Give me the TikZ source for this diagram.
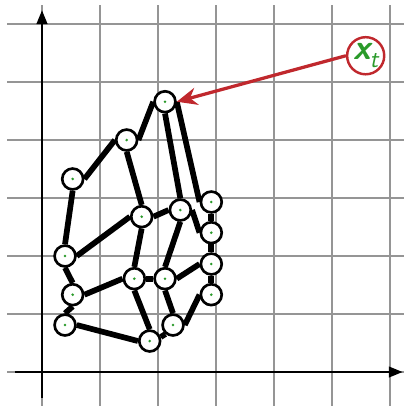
\documentclass[tikz,border=0pt]{standalone}
\usepackage{amsmath,bm}
\usepackage{xcolor}
\definecolor{rojoPt}{HTML}{C0282D}
\definecolor{verdePt}{HTML}{2A9A2A}
\definecolor{gridGris}{HTML}{959595}
\usepackage{tikz}
\usetikzlibrary{arrows.meta,calc}

\begin{document}
\begin{tikzpicture}[
  pt/.style={circle,draw,line width=1.3pt,fill=white,minimum size=0.36cm,inner sep=0pt,
    path picture={\fill[verdePt] (path picture bounding box.center) circle (0.7pt);}},
  lnk/.style={line width=2.8pt},
  eje/.style={-{Triangle[length=2.4mm,width=1.8mm]},line width=1.3pt},
  rejilla/.style={gridGris,line width=0.6pt}]
  \useasboundingbox (-0.724,-0.586) rectangle (6.241,6.414);
  % rejilla y ejes
  \foreach \k in {0,...,6} {
    \draw[rejilla] (-0.603,\k)--(6.241,\k);
    \draw[rejilla] (\k,-0.586)--(\k,6.328);
  }
  \draw[eje] (0,-0.448)--(0,6.24);
  \draw[eje] (-0.466,0)--(6.22,0);
  % nodos
  \node[pt] (p1) at (2.121,4.660) {};
  \node[pt] (p2) at (1.460,4.000) {};
  \node[pt] (p3) at (0.529,3.328) {};
  \node[pt] (p4) at (1.719,2.678) {};
  \node[pt] (p5) at (2.385,2.793) {};
  \node[pt] (p6) at (2.919,2.931) {};
  \node[pt] (p7) at (2.919,2.402) {};
  \node[pt] (p8) at (2.919,1.862) {};
  \node[pt] (p9) at (2.919,1.333) {};
  \node[pt] (p10) at (0.397,2.000) {};
  \node[pt] (p11) at (0.529,1.333) {};
  \node[pt] (p12) at (0.397,0.810) {};
  \node[pt] (p13) at (1.592,1.609) {};
  \node[pt] (p14) at (2.121,1.609) {};
  \node[pt] (p15) at (2.259,0.810) {};
  \node[pt] (p16) at (1.857,0.534) {};
  % aristas
  \draw[lnk] (p3.east)--(p2.west);
  \draw[lnk] (p2.east)--(p1.west);
  \draw[lnk] (p1.south)--(p5.north);
  \draw[lnk] (p1.east)--(p6.west);
  \draw[lnk] (p2.south)--(p4.north);
  \draw[lnk] (p3.south)--(p10.north);
  \draw[lnk] (p10.east)--(p4.west);
  \draw[lnk] (p4.east)--(p5.west);
  \draw[lnk] (p5.east)--(p7.west);
  \draw[lnk] (p6.south)--(p7.north);
  \draw[lnk] (p7.south)--(p8.north);
  \draw[lnk] (p8.south)--(p9.north);
  \draw[lnk] (p4.south)--(p13.north);
  \draw[lnk] (p5.south)--(p14.north);
  \draw[lnk] (p13.east)--(p14.west);
  \draw[lnk] (p14.east)--(p8.west);
  \draw[lnk] (p10.south)--(p11.north);
  \draw[lnk] (p11.east)--(p13.west);
  \draw[lnk] (p11.south)--(p12.north);
  \draw[lnk] (p12.east)--(p16.west);
  \draw[lnk] (p13.south)--(p16.north);
  \draw[lnk] (p14.south)--(p15.north);
  \draw[lnk] (p16.20)--(p15.230);
  \draw[lnk] (p15.east)--(p9.west);
  % estado actual
  \node[circle,draw=rojoPt,line width=1.2pt,fill=white,minimum size=0.64cm,inner sep=0pt,
    text=verdePt,font=\sffamily\bfseries\itshape\LARGE] (xt) at (5.581,5.453)
    {x\kern-0.5pt\raisebox{-0.5ex}{\large\mdseries t}};
  \draw[-{Stealth[length=3.5mm,width=3mm]},rojoPt,line width=1.6pt] (xt.west)--(p1.east);
\end{tikzpicture}
\end{document}
